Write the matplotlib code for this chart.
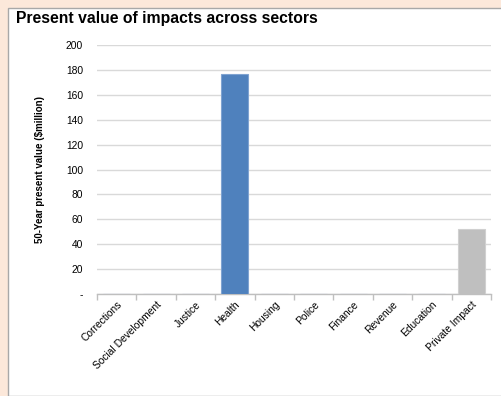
import matplotlib.pyplot as plt
from matplotlib.patches import Rectangle

# Present value of impacts by sector, $ million
sectors = ['Corrections', 'Social Development', 'Justice', 'Health', 'Housing',
           'Police', 'Finance', 'Revenue', 'Education', 'Private Impact']
values = [0, 0, 0, 177, 0, 0, 0, 0, 0, 52]
bar_colors = ['#4F81BD'] * 9 + ['#BFBFBF']
edge_colors = ['#7FA3D1'] * 9 + ['#D0D0D0']
yticks = [0, 20, 40, 60, 80, 100, 120, 140, 160, 180, 200]
yticklabels = ['-'] + [str(t) for t in yticks[1:]]

plt.rcParams['font.family'] = ['Liberation Sans', 'DejaVu Sans']

fig = plt.figure(figsize=(5.01, 3.96), dpi=100)
fig.patch.set_facecolor('#FCE8DA')
# white chart panel
fig.patches.append(Rectangle((7.5 / 501, 0), 1, 1 - 8 / 396, transform=fig.transFigure,
                             facecolor='white', edgecolor='#A8A8A8', linewidth=1, zorder=-10))

ax = fig.add_axes([97 / 501, 1 - 294 / 396, (491 - 97) / 501, (294 - 45) / 396])
ax.set_facecolor('white')

x = range(len(sectors))
ax.bar(x, values, width=0.69, color=bar_colors, edgecolor=edge_colors, linewidth=0.8, zorder=3)

ax.set_xlim(-0.5, len(sectors) - 0.5)
ax.set_ylim(0, 200)
ax.set_yticks(yticks)
ax.set_yticklabels(yticklabels, fontsize=7.4)
ax.tick_params(axis='y', length=0, pad=10)
ax.yaxis.grid(True, color='#D9D9D9', linewidth=1)
ax.set_axisbelow(True)

ax.set_xticks(list(x))
ax.set_xticklabels(sectors, fontsize=7.4, rotation=45, ha='right', va='top', rotation_mode='anchor')
ax.tick_params(axis='x', length=0, pad=4)
# tick marks between categories
ax.set_xticks([i - 0.5 for i in range(len(sectors) + 1)], minor=True)
ax.tick_params(axis='x', which='minor', length=4, color='#BFBFBF', width=1)

for s in ['top', 'right', 'left']:
    ax.spines[s].set_visible(False)
ax.spines['bottom'].set_color('#BFBFBF')
ax.spines['bottom'].set_linewidth(1)

ax.set_ylabel('50-Year present value ($million)', fontsize=7, fontweight='bold')
ax.yaxis.set_label_coords(-52 / 394, 0.5)

fig.text(16 / 501, 1 - 19 / 396, 'Present value of impacts across sectors',
         fontsize=11.3, fontweight='bold', va='center', ha='left')

fig.savefig('out.png', dpi=100, facecolor=fig.get_facecolor())
